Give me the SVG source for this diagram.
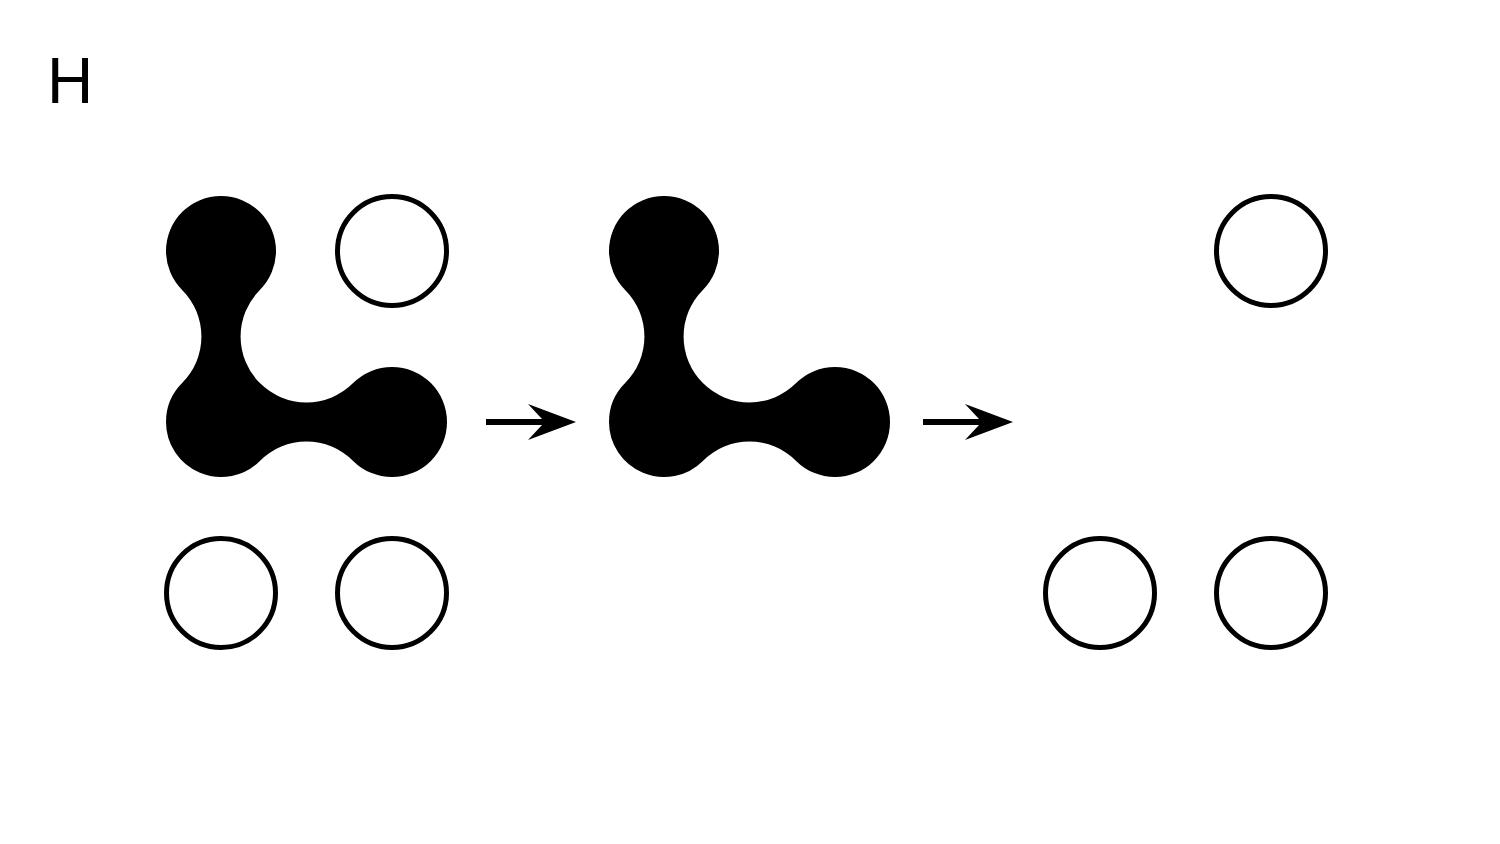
<svg xmlns="http://www.w3.org/2000/svg" width="1500" height="844" viewBox="0 0 1500 844">
<style>
.ring{fill:none;stroke:#000;stroke-width:5}
.blob{fill:#000}
.arrow{fill:#000}
.label{font-family:"Liberation Sans",Arial,sans-serif;font-size:64px;fill:#000}
</style>
<defs>
<path id="blobShape" d="M259.89 289.89 A55 55 0 1 0 182.11 289.89 A65.9 65.9 0 0 1 182.11 383.11 A55 55 0 0 0 166 422 A55 55 0 0 0 259.89 460.89 A65.9 65.9 0 0 1 353.11 460.89 A55 55 0 1 0 353.11 383.11 A65.9 65.9 0 0 1 259.89 289.89 Z"/>
<path id="arrowShape" d="M576 422 L528 404 L542 419 L486 419 L486 425 L542 425 L528 440 Z"/>
</defs>
<rect width="1500" height="844" fill="#fff"/>
<text class="label" x="47" y="103">H</text>
<g id="state1">
<use class="blob" href="#blobShape"/>
<circle class="ring" cx="392" cy="251" r="54.5"/>
<circle class="ring" cx="221" cy="593" r="54.5"/>
<circle class="ring" cx="392" cy="593" r="54.5"/>
</g>
<g id="state2">
<use class="blob" href="#blobShape" transform="translate(443 0)"/>
</g>
<g id="state3">
<circle class="ring" cx="1271" cy="251" r="54.5"/>
<circle class="ring" cx="1100" cy="593" r="54.5"/>
<circle class="ring" cx="1271" cy="593" r="54.5"/>
</g>
<g id="connectors">
<use class="arrow" href="#arrowShape"/>
<use class="arrow" href="#arrowShape" transform="translate(437 0)"/>
</g>
</svg>
